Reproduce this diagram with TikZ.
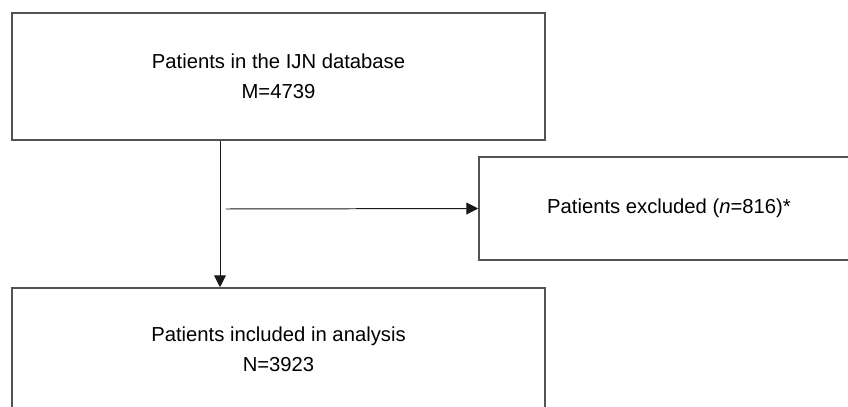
\documentclass[tikz,border=0pt]{standalone}
\usepackage{fontspec}
\setmainfont{Liberation Sans}
\usetikzlibrary{arrows.meta}

\tikzset{
  flowbox/.style={draw=black!68, line width=1.1pt, align=center, inner sep=0pt,
    font=\fontsize{14.4}{21}\selectfont},
  flowarrow/.style={draw=black!90, line width=0.7pt, -{Triangle[length=8.5pt,width=8.5pt]}}
}

\begin{document}
\begin{tikzpicture}[x=0.025cm, y=-0.025cm]
\useasboundingbox (0,0) rectangle (848,407);

\node[flowbox, minimum width=533*0.025cm, minimum height=127*0.025cm] (db) at (278.5,76.5) {Patients in the IJN database\\M=4739};
\node[flowbox, minimum width=380*0.025cm, minimum height=103*0.025cm] (excl) at (669,208.5) {Patients excluded (\textit{n}=816)*};
\node[flowbox, minimum width=533*0.025cm, minimum height=122*0.025cm] (incl) at (278.5,349) {Patients included in analysis\\N=3923};

\coordinate (split) at (225.5,209);

\draw[flowarrow] (db.south -| 220,0) -- (incl.north -| 220,0);
\draw[flowarrow] (split) -- (excl.west);

\end{tikzpicture}
\end{document}
